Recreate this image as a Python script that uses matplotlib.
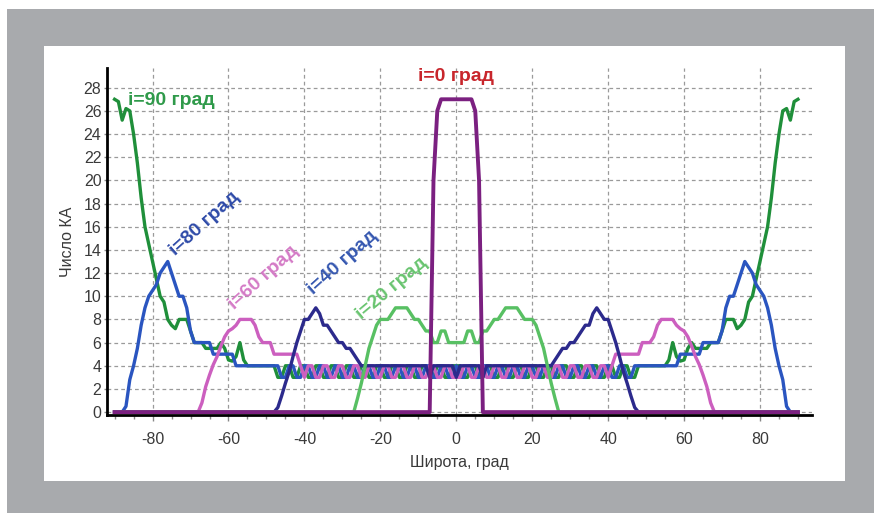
import matplotlib
matplotlib.use('Agg')
import matplotlib.pyplot as plt
from matplotlib.patches import Rectangle
from matplotlib.ticker import MultipleLocator

plt.rcParams['font.family'] = ['Liberation Sans', 'DejaVu Sans']
plt.rcParams['axes.unicode_minus'] = False

# широты северного полушария, южное - зеркально
lat_n = list(range(0, 91))

# i=0
ka_0 = [27, 27, 27, 27, 27, 26, 20] + [0] * 84

# i=20
ka_20 = [6, 6, 6, 7, 7, 6, 6, 7, 7, 7.5, 8, 8, 8.5, 9, 9, 9, 9, 8.5, 8, 8, 8,
         7.5, 6.5, 5.5, 4, 2.5, 1.2] + [0] * 64

# i=40
ka_40 = [3, 4, 4, 4, 4, 4, 4, 3, 4, 4, 4, 4, 4, 4, 4, 4, 4, 4, 4, 4, 4, 4, 4, 4, 4, 4,
         4.5, 5, 5.5, 5.5, 6, 6, 6.5, 7, 7.5, 7.5, 8.5, 9, 8.5, 8, 8, 7, 6, 4.8, 3.5, 2.5,
         1.4, 0.4] + [0] * 43

# i=60
ka_60 = [3, 3, 4, 4, 3, 3, 4, 4, 3, 3, 4, 4, 3, 3, 4, 4, 3, 3, 4, 4, 3, 3, 4, 4, 3, 3,
         4, 4, 3, 3, 4, 4, 3, 3, 4, 4, 3, 3, 4, 4, 3, 4,
         5, 5, 5, 5, 5, 5, 5, 6, 6, 6, 6.5, 7.5, 8, 8, 8, 8, 7.5, 7.2, 7, 6.5, 5.7, 4.8,
         4.1, 3.2, 2.2, 0.8] + [0] * 23

# i=80
ka_80 = [4, 3, 3, 4, 4, 3, 3, 4, 4, 3, 3, 4, 4, 3, 3, 4, 4, 3, 3, 4, 4, 3, 3, 4, 4, 3,
         3, 4, 4, 3, 3, 4, 4, 3, 3, 4, 4, 3, 3, 4, 4, 3, 3, 4, 4, 3, 3, 4,
         4, 4, 4, 4, 4, 4, 4, 4, 4, 4, 4, 5, 5, 5, 5, 5, 5, 6, 6, 6, 6, 6,
         7, 9, 10, 10, 11, 12, 13, 12.5, 12, 11, 10.5, 10, 9, 7.5, 5.5, 4, 2.8, 0.5, 0, 0, 0]

# i=90
ka_90 = [4, 4, 3, 3, 4, 4, 3, 3, 4, 4, 3, 3, 4, 4, 3, 3, 4, 4, 3, 3, 4, 4, 3, 3, 4, 4,
         3, 3, 4, 4, 3, 3, 4, 4, 3, 3, 4, 4, 3, 3, 4, 4, 3, 3, 4, 4, 3, 3, 4, 4,
         4, 4, 4, 4, 4, 4, 4.5, 6, 4.8, 4.4, 4.5, 5.5, 6, 5.5, 5.5, 5.5, 5.5, 6, 6, 6,
         7, 8, 8, 8, 7.2, 7.5, 8, 9.5, 10, 11.5, 13, 14.5, 16, 18.5, 21.5, 24, 26, 26.2,
         25.2, 26.8, 27]


def full(vals):
    # зеркалим на южное полушарие
    return vals[:0:-1] + vals


lat = [-x for x in lat_n[:0:-1]] + lat_n

fig = plt.figure(figsize=(8.74, 5.13), dpi=100)
fig.patch.set_facecolor('white')
fig.add_artist(Rectangle((7 / 874, 0), 1, 1 - 9 / 513, transform=fig.transFigure,
                         facecolor='#a8aaad', edgecolor='none', zorder=-10))
fig.add_artist(Rectangle((44 / 874, 1 - 481 / 513), 801 / 874, 435 / 513,
                         transform=fig.transFigure, facecolor='white', edgecolor='none', zorder=-9))

ax = fig.add_axes([107 / 874, 1 - 415 / 513, 705 / 874, 347 / 513])
ax.set_facecolor('none')

lw = 2.4
ax.plot(lat, full(ka_90), color='#1f8f3a', lw=lw, zorder=3)
ax.plot(lat, full(ka_80), color='#2a55c0', lw=lw, zorder=4)
ax.plot(lat, full(ka_60), color='#cc5fbf', lw=lw, zorder=5)
ax.plot(lat, full(ka_40), color='#2c2a8c', lw=lw, zorder=6)
ax.plot(lat, full(ka_20), color='#58c063', lw=lw, zorder=7)
ax.plot(lat, full(ka_0), color='#7b2080', lw=lw + 0.4, zorder=8)

ax.set_xlim(-92, 93.7)
ax.set_ylim(-0.25, 29.7)
ax.set_xticks([-80, -60, -40, -20, 0, 20, 40, 60, 80])
ax.xaxis.set_minor_locator(MultipleLocator(5))
ax.set_yticks(list(range(0, 29, 2)))

ax.grid(True, which='major', linestyle=(0, (3, 2.5)), color='#9a9a9a', lw=0.9)
for s in ['top', 'right']:
    ax.spines[s].set_visible(False)
for s in ['left', 'bottom']:
    ax.spines[s].set_linewidth(2)
    ax.spines[s].set_color('black')

ax.tick_params(axis='both', which='both', colors='#888888', labelcolor='#3a3a3a',
               labelsize=11.5, length=3, width=1)
ax.tick_params(axis='x', which='major', length=4, pad=8)
ax.tick_params(axis='y', which='major', length=2, pad=2)

ax.set_xlabel('Широта, град', fontsize=11.5, color='#3a3a3a', labelpad=6)
ax.set_ylabel('Число КА', fontsize=11.5, color='#3a3a3a', labelpad=6)

lab = dict(fontsize=14, fontweight='bold', ha='center', va='center',
           rotation_mode='anchor', zorder=10)
ax.text(0, 29.0, 'i=0 град', color='#c8262c', **lab)
ax.text(-75.0, 26.9, 'i=90 град', color='#2f9a4a', **lab)
ax.text(-66.3, 16.3, 'i=80 град', color='#2e4aa8', rotation=42, **lab)
ax.text(-50.8, 11.6, 'i=60 град', color='#d47ac6', rotation=42, **lab)
ax.text(-30.0, 12.9, 'i=40 град', color='#3557b0', rotation=42, **lab)
ax.text(-17.1, 10.7, 'i=20 град', color='#68c46f', rotation=40, **lab)

fig.savefig('out.png', dpi=100)
